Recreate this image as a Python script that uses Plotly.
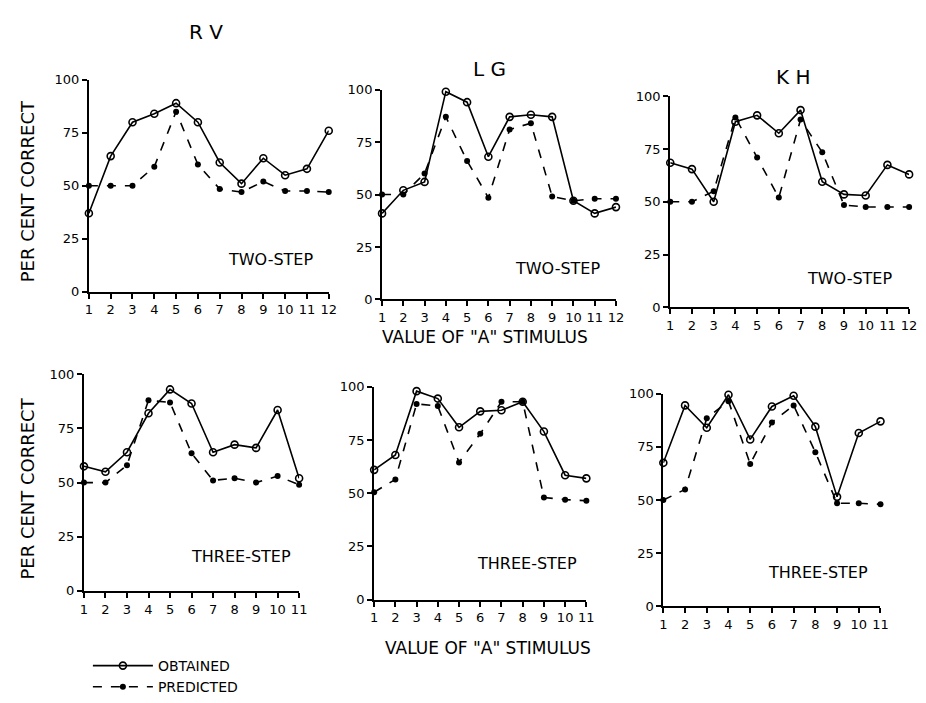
import plotly.graph_objects as go

W, H = 926, 703

x12 = list(range(1, 13))
x11 = list(range(1, 12))

rv2_obt = [37, 64, 80, 84, 89, 80, 61, 51, 63, 55, 58, 76]
rv2_pred = [50, 50, 50, 59, 85, 60, 48.5, 47, 52, 47.5, 47.5, 47]
lg2_obt = [41, 52, 56, 99, 94, 68, 87, 88, 87, 47, 41, 44]
lg2_pred = [50, 50, 60, 87, 66, 48.5, 81, 84, 49, 47, 48, 48]
kh2_obt = [68.5, 65.5, 50, 88, 91, 82.5, 93.5, 59.5, 53.5, 53, 67.5, 63]
kh2_pred = [50, 50, 55, 90, 71, 52, 89, 73.5, 48.5, 47.5, 47.5, 47.5]

rv3_obt = [57.5, 55, 64, 82, 93, 86.5, 64, 67.5, 66, 83.5, 52]
rv3_pred = [50, 50, 58, 88, 87, 63.5, 51, 52, 50, 53, 49]
lg3_obt = [61, 68, 98, 94.5, 81, 88.5, 89, 93, 79, 58.5, 57]
lg3_pred = [50.5, 56.5, 92, 91, 64.5, 78, 93, 93, 48, 47, 46.5]
kh3_obt = [67.5, 94.5, 84, 99.5, 78.5, 94, 99, 84.5, 51.5, 81.5, 87]
kh3_pred = [50, 55, 88.5, 96.5, 67, 86.5, 94.5, 72.5, 48.5, 48.5, 48]

y_ticks = [0, 25, 50, 75, 100]
subjects = ["RV", "LG", "KH"]

panels = [
    dict(x=x12, obt=rv2_obt, pred=rv2_pred, px=(86, 329), py=(293, 75), label="TWO-STEP", lab=(270, 260)),
    dict(x=x12, obt=lg2_obt, pred=lg2_pred, px=(383, 620), py=(301, 85), label="TWO-STEP", lab=(561, 269)),
    dict(x=x12, obt=kh2_obt, pred=kh2_pred, px=(675, 917), py=(309, 92), label="TWO-STEP", lab=(857, 279)),
    dict(x=x11, obt=rv3_obt, pred=rv3_pred, px=(81, 299), py=(601, 378), label="THREE-STEP", lab=(240, 566)),
    dict(x=x11, obt=lg3_obt, pred=lg3_pred, px=(375, 590), py=(610, 391), label="THREE-STEP", lab=(530, 573)),
    dict(x=x11, obt=kh3_obt, pred=kh3_pred, px=(668, 888), py=(617, 398), label="THREE-STEP", lab=(825, 582)),
]

FONT = "DejaVu Sans"
fig = go.Figure()
annotations = []

def px2paper(px, py):
    return px / W, 1 - py / H

def add_text(text, px, py, size, angle=0):
    ax, ay = px2paper(px, py)
    annotations.append(dict(x=ax, y=ay, xref="paper", yref="paper", text=text,
                            xanchor="center", yanchor="middle", textangle=angle,
                            showarrow=False, font=dict(family=FONT, size=size, color="black")))

for i, p in enumerate(panels):
    n = i + 1
    xa = "x" if n == 1 else f"x{n}"
    ya = "y" if n == 1 else f"y{n}"
    fig.add_trace(go.Scatter(
        x=p["x"], y=p["pred"], xaxis=xa, yaxis=ya, mode="lines+markers",
        line=dict(color="black", width=1.6, dash="dash"),
        marker=dict(symbol="circle", size=6, color="black"),
        cliponaxis=False, name="PREDICTED", showlegend=False))
    fig.add_trace(go.Scatter(
        x=p["x"], y=p["obt"], xaxis=xa, yaxis=ya, mode="lines+markers",
        line=dict(color="black", width=1.6),
        marker=dict(symbol="circle-open", size=7, color="black", line=dict(width=1.6)),
        cliponaxis=False, name="OBTAINED", showlegend=False))
    x0, x1 = p["px"][0] / W, p["px"][1] / W
    y0, y1 = 1 - p["py"][0] / H, 1 - p["py"][1] / H
    axkey = "xaxis" if n == 1 else f"xaxis{n}"
    aykey = "yaxis" if n == 1 else f"yaxis{n}"
    fig.layout[axkey] = dict(
        domain=[x0, x1], range=[1, len(p["x"])], anchor=ya,
        tickvals=p["x"], ticktext=[str(v) for v in p["x"]],
        showline=True, linecolor="black", linewidth=2, ticks="outside",
        ticklen=5, tickwidth=1.5, tickcolor="black", showgrid=False, zeroline=False,
        tickfont=dict(family=FONT, size=13, color="black"))
    fig.layout[aykey] = dict(
        domain=[y0, y1], range=[0, 100], anchor=xa,
        tickvals=y_ticks, showline=True, linecolor="black", linewidth=2,
        ticks="outside", ticklen=5, tickwidth=1.5, tickcolor="black",
        showgrid=False, zeroline=False,
        tickfont=dict(family=FONT, size=13, color="black"))
    add_text(p["label"], p["lab"][0], p["lab"][1], 16)

# legend traces
fig.add_trace(go.Scatter(x=[None], y=[None], mode="lines+markers", name="OBTAINED",
                         line=dict(color="black", width=1.6),
                         marker=dict(symbol="circle-open", size=7, color="black", line=dict(width=1.6))))
fig.add_trace(go.Scatter(x=[None], y=[None], mode="lines+markers", name="PREDICTED",
                         line=dict(color="black", width=1.6, dash="dash"),
                         marker=dict(symbol="circle", size=6, color="black")))

for t, tx, ty in (("R V", 205, 26), ("L G", 492, 64), ("K H", 800, 72)):
    add_text(t, tx, ty, 20)

for cy in (190, 496):
    add_text("PER CENT CORRECT", 24, cy, 18, angle=-90)

for cx, cy in ((487, 340), (490, 660)):
    add_text('VALUE OF "A" STIMULUS', cx, cy, 17)

fig.update_layout(
    width=W, height=H, margin=dict(l=0, r=0, t=0, b=0),
    paper_bgcolor="white", plot_bgcolor="white",
    annotations=annotations,
    showlegend=True,
    legend=dict(x=85 / W, y=1 - 662 / H, xanchor="left", yanchor="top",
                font=dict(family=FONT, size=14, color="black"),
                itemwidth=60, tracegroupgap=0, bgcolor="rgba(0,0,0,0)"),
)

fig.write_html("out.html")
